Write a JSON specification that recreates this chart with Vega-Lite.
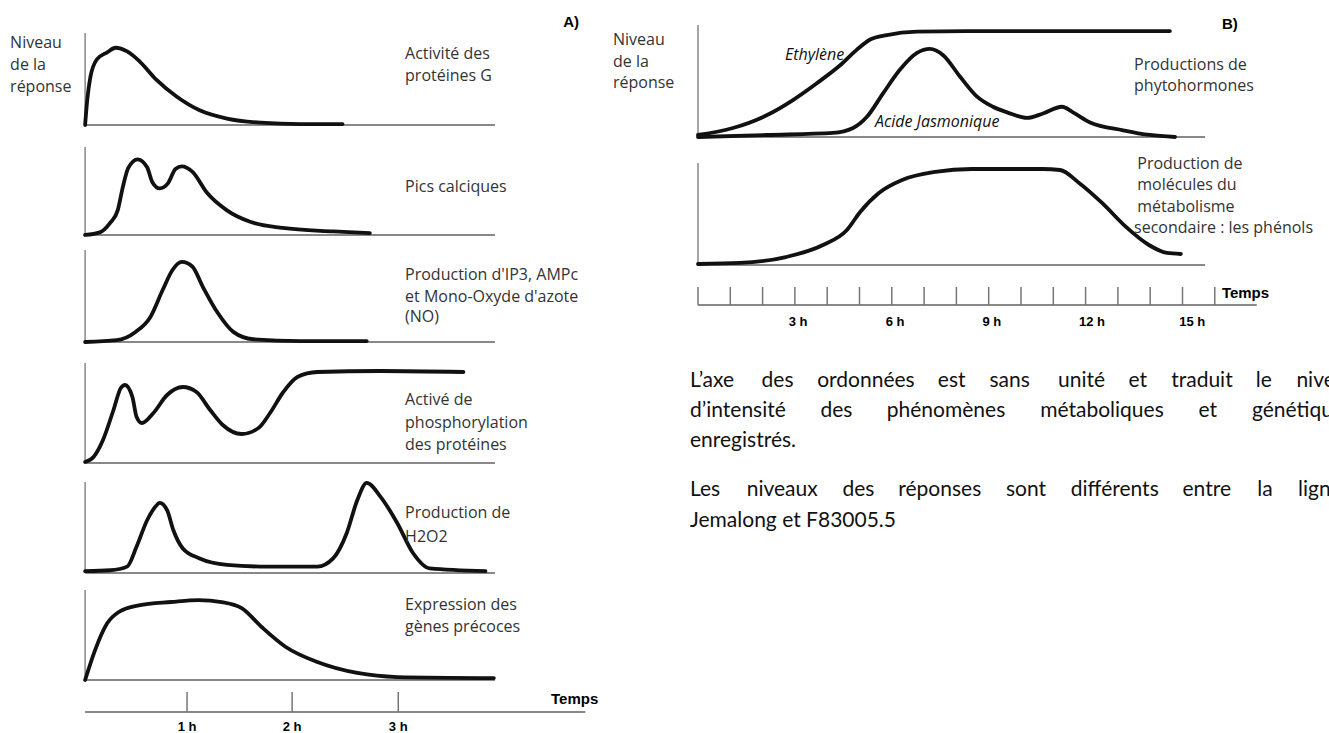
{
"$schema": "https://vega.github.io/schema/vega-lite/v6.json",
"background": "white",
"padding": 0,
"spacing": 0,
"config": {"view": {"stroke": null}},
"datasets": {
"curves": [
{"p":"A1","s":"a","t":0,"L":0},{"p":"A1","s":"a","t":0.02,"L":0.27},{"p":"A1","s":"a","t":0.05,"L":0.52},{"p":"A1","s":"a","t":0.11,"L":0.71},{"p":"A1","s":"a","t":0.21,"L":0.79},{"p":"A1","s":"a","t":0.29,"L":0.84},{"p":"A1","s":"a","t":0.4,"L":0.8},{"p":"A1","s":"a","t":0.52,"L":0.69},{"p":"A1","s":"a","t":0.68,"L":0.49},{"p":"A1","s":"a","t":0.87,"L":0.31},{"p":"A1","s":"a","t":1.09,"L":0.16},{"p":"A1","s":"a","t":1.35,"L":0.07},{"p":"A1","s":"a","t":1.67,"L":0.025},{"p":"A1","s":"a","t":2.05,"L":0.01},{"p":"A1","s":"a","t":2.45,"L":0.01},
{"p":"A2","s":"a","t":0,"L":0},{"p":"A2","s":"a","t":0.14,"L":0.03},{"p":"A2","s":"a","t":0.24,"L":0.14},{"p":"A2","s":"a","t":0.31,"L":0.28},{"p":"A2","s":"a","t":0.36,"L":0.55},{"p":"A2","s":"a","t":0.41,"L":0.76},{"p":"A2","s":"a","t":0.5,"L":0.86},{"p":"A2","s":"a","t":0.59,"L":0.77},{"p":"A2","s":"a","t":0.64,"L":0.6},{"p":"A2","s":"a","t":0.71,"L":0.53},{"p":"A2","s":"a","t":0.79,"L":0.59},{"p":"A2","s":"a","t":0.86,"L":0.75},{"p":"A2","s":"a","t":0.92,"L":0.78},{"p":"A2","s":"a","t":1.02,"L":0.72},{"p":"A2","s":"a","t":1.16,"L":0.48},{"p":"A2","s":"a","t":1.35,"L":0.28},{"p":"A2","s":"a","t":1.57,"L":0.15},{"p":"A2","s":"a","t":1.88,"L":0.08},{"p":"A2","s":"a","t":2.36,"L":0.04},{"p":"A2","s":"a","t":2.71,"L":0.02},
{"p":"A3","s":"a","t":0,"L":0},{"p":"A3","s":"a","t":0.3,"L":0.02},{"p":"A3","s":"a","t":0.48,"L":0.11},{"p":"A3","s":"a","t":0.62,"L":0.27},{"p":"A3","s":"a","t":0.74,"L":0.57},{"p":"A3","s":"a","t":0.83,"L":0.78},{"p":"A3","s":"a","t":0.92,"L":0.87},{"p":"A3","s":"a","t":1.02,"L":0.82},{"p":"A3","s":"a","t":1.12,"L":0.6},{"p":"A3","s":"a","t":1.26,"L":0.32},{"p":"A3","s":"a","t":1.41,"L":0.11},{"p":"A3","s":"a","t":1.6,"L":0.03},{"p":"A3","s":"a","t":2.05,"L":0.01},{"p":"A3","s":"a","t":2.68,"L":0.01},
{"p":"A4","s":"a","t":0,"L":0.01},{"p":"A4","s":"a","t":0.08,"L":0.06},{"p":"A4","s":"a","t":0.17,"L":0.23},{"p":"A4","s":"a","t":0.27,"L":0.53},{"p":"A4","s":"a","t":0.34,"L":0.75},{"p":"A4","s":"a","t":0.38,"L":0.78},{"p":"A4","s":"a","t":0.45,"L":0.66},{"p":"A4","s":"a","t":0.49,"L":0.46},{"p":"A4","s":"a","t":0.54,"L":0.4},{"p":"A4","s":"a","t":0.65,"L":0.5},{"p":"A4","s":"a","t":0.78,"L":0.68},{"p":"A4","s":"a","t":0.93,"L":0.76},{"p":"A4","s":"a","t":1.06,"L":0.71},{"p":"A4","s":"a","t":1.19,"L":0.53},{"p":"A4","s":"a","t":1.31,"L":0.38},{"p":"A4","s":"a","t":1.49,"L":0.29},{"p":"A4","s":"a","t":1.65,"L":0.35},{"p":"A4","s":"a","t":1.76,"L":0.5},{"p":"A4","s":"a","t":1.88,"L":0.7},{"p":"A4","s":"a","t":2.02,"L":0.86},{"p":"A4","s":"a","t":2.21,"L":0.91},{"p":"A4","s":"a","t":2.81,"L":0.92},{"p":"A4","s":"a","t":3.6,"L":0.91},
{"p":"A5","s":"a","t":0,"L":0.02},{"p":"A5","s":"a","t":0.24,"L":0.03},{"p":"A5","s":"a","t":0.4,"L":0.07},{"p":"A5","s":"a","t":0.49,"L":0.29},{"p":"A5","s":"a","t":0.59,"L":0.58},{"p":"A5","s":"a","t":0.67,"L":0.73},{"p":"A5","s":"a","t":0.71,"L":0.77},{"p":"A5","s":"a","t":0.78,"L":0.69},{"p":"A5","s":"a","t":0.84,"L":0.47},{"p":"A5","s":"a","t":0.93,"L":0.27},{"p":"A5","s":"a","t":1.09,"L":0.16},{"p":"A5","s":"a","t":1.35,"L":0.09},{"p":"A5","s":"a","t":1.73,"L":0.07},{"p":"A5","s":"a","t":2.21,"L":0.07},{"p":"A5","s":"a","t":2.36,"L":0.16},{"p":"A5","s":"a","t":2.49,"L":0.44},{"p":"A5","s":"a","t":2.59,"L":0.8},{"p":"A5","s":"a","t":2.68,"L":0.99},{"p":"A5","s":"a","t":2.81,"L":0.84},{"p":"A5","s":"a","t":2.97,"L":0.55},{"p":"A5","s":"a","t":3.12,"L":0.22},{"p":"A5","s":"a","t":3.28,"L":0.05},{"p":"A5","s":"a","t":3.81,"L":0.02},
{"p":"A6","s":"a","t":0,"L":0},{"p":"A6","s":"a","t":0.095,"L":0.333},{"p":"A6","s":"a","t":0.21,"L":0.63},{"p":"A6","s":"a","t":0.32,"L":0.756},{"p":"A6","s":"a","t":0.51,"L":0.83},{"p":"A6","s":"a","t":0.82,"L":0.867},{"p":"A6","s":"a","t":1.08,"L":0.889},{"p":"A6","s":"a","t":1.3,"L":0.867},{"p":"A6","s":"a","t":1.49,"L":0.8},{"p":"A6","s":"a","t":1.68,"L":0.589},{"p":"A6","s":"a","t":1.91,"L":0.367},{"p":"A6","s":"a","t":2.21,"L":0.2},{"p":"A6","s":"a","t":2.59,"L":0.078},{"p":"A6","s":"a","t":2.97,"L":0.033},{"p":"A6","s":"a","t":3.89,"L":0.022},
{"p":"B1","s":"eth","t":0,"L":0.018},{"p":"B1","s":"eth","t":1.08,"L":0.08},{"p":"B1","s":"eth","t":2.14,"L":0.196},{"p":"B1","s":"eth","t":2.94,"L":0.33},{"p":"B1","s":"eth","t":3.68,"L":0.48},{"p":"B1","s":"eth","t":4.4,"L":0.64},{"p":"B1","s":"eth","t":4.92,"L":0.78},{"p":"B1","s":"eth","t":5.33,"L":0.87},{"p":"B1","s":"eth","t":5.85,"L":0.91},{"p":"B1","s":"eth","t":6.78,"L":0.94},{"p":"B1","s":"eth","t":8.33,"L":0.946},{"p":"B1","s":"eth","t":14.61,"L":0.946},
{"p":"B1","s":"ja","t":0,"L":0},{"p":"B1","s":"ja","t":2.14,"L":0.018},{"p":"B1","s":"ja","t":4.18,"L":0.036},{"p":"B1","s":"ja","t":4.8,"L":0.08},{"p":"B1","s":"ja","t":5.23,"L":0.18},{"p":"B1","s":"ja","t":5.73,"L":0.39},{"p":"B1","s":"ja","t":6.25,"L":0.6},{"p":"B1","s":"ja","t":6.78,"L":0.75},{"p":"B1","s":"ja","t":7.18,"L":0.786},{"p":"B1","s":"ja","t":7.59,"L":0.73},{"p":"B1","s":"ja","t":8.11,"L":0.54},{"p":"B1","s":"ja","t":8.64,"L":0.36},{"p":"B1","s":"ja","t":9.13,"L":0.27},{"p":"B1","s":"ja","t":9.57,"L":0.22},{"p":"B1","s":"ja","t":10.19,"L":0.17},{"p":"B1","s":"ja","t":10.68,"L":0.21},{"p":"B1","s":"ja","t":11.27,"L":0.27},{"p":"B1","s":"ja","t":11.61,"L":0.22},{"p":"B1","s":"ja","t":12.14,"L":0.13},{"p":"B1","s":"ja","t":13.16,"L":0.06},{"p":"B1","s":"ja","t":13.99,"L":0.018},{"p":"B1","s":"ja","t":14.77,"L":0},
{"p":"B2","s":"phe","t":0,"L":0.01},{"p":"B2","s":"phe","t":1.3,"L":0.02},{"p":"B2","s":"phe","t":2.72,"L":0.078},{"p":"B2","s":"phe","t":3.87,"L":0.196},{"p":"B2","s":"phe","t":4.61,"L":0.343},{"p":"B2","s":"phe","t":5.02,"L":0.52},{"p":"B2","s":"phe","t":5.6,"L":0.706},{"p":"B2","s":"phe","t":6.32,"L":0.833},{"p":"B2","s":"phe","t":7.34,"L":0.912},{"p":"B2","s":"phe","t":8.48,"L":0.941},{"p":"B2","s":"phe","t":10.65,"L":0.941},{"p":"B2","s":"phe","t":11.21,"L":0.931},{"p":"B2","s":"phe","t":11.8,"L":0.804},{"p":"B2","s":"phe","t":12.51,"L":0.608},{"p":"B2","s":"phe","t":13.25,"L":0.373},{"p":"B2","s":"phe","t":13.96,"L":0.196},{"p":"B2","s":"phe","t":14.52,"L":0.118},{"p":"B2","s":"phe","t":14.95,"L":0.108}
],
"labels": [
{"p":"A1","text":"Niveau","t":-0.714,"L":0.891},{"p":"A1","text":"de la","t":-0.714,"L":0.652},{"p":"A1","text":"réponse","t":-0.714,"L":0.413},
{"p":"A1","text":"Activité des","t":3.045,"L":0.772},{"p":"A1","text":"protéines G","t":3.045,"L":0.533},
{"p":"A2","text":"Pics calciques","t":3.045,"L":0.545},
{"p":"A3","text":"Production d'IP3,  AMPc","t":3.045,"L":0.728},{"p":"A3","text":"et Mono-Oxyde d'azote","t":3.045,"L":0.489},{"p":"A3","text":"(NO)","t":3.045,"L":0.272},
{"p":"A4","text":"Activé de","t":3.045,"L":0.63},{"p":"A4","text":"phosphorylation","t":3.045,"L":0.4},{"p":"A4","text":"des protéines","t":3.045,"L":0.18},
{"p":"A5","text":"Production de","t":3.045,"L":0.659},{"p":"A5","text":"H2O2","t":3.045,"L":0.396},
{"p":"A6","text":"Expression des","t":3.045,"L":0.833},{"p":"A6","text":"gènes précoces","t":3.045,"L":0.589},
{"p":"B1","text":"Niveau","t":-2.632,"L":0.866},{"p":"B1","text":"de la","t":-2.632,"L":0.67},{"p":"B1","text":"réponse","t":-2.632,"L":0.482},
{"p":"B1","text":"Productions de","t":13.5,"L":0.643},{"p":"B1","text":"phytohormones","t":13.5,"L":0.455},
{"p":"B2","text":"Production de","t":13.6,"L":0.99},{"p":"B2","text":"molécules du","t":13.6,"L":0.784},{"p":"B2","text":"métabolisme","t":13.6,"L":0.569},{"p":"B2","text":"secondaire : les phénols","t":13.5,"L":0.363}
],
"bold": [
{"p":"A1","text":"A)","t":4.55,"L":1.12},
{"p":"A6","text":"Temps","t":4.434,"L":-0.211},
{"p":"B1","text":"B)","t":16.22,"L":1.009},
{"p":"B3","text":"Temps","t":16.22,"L":0.4}
],
"italic": [
{"p":"B1","text":"Ethylène","t":2.69,"L":0.73},
{"p":"B1","text":"Acide Jasmonique","t":5.48,"L":0.134}
],
"ticks": [
{"p":"A6","t":0.97},{"p":"A6","t":1.97},{"p":"A6","t":2.98},
{"p":"B3","t":0},{"p":"B3","t":1},{"p":"B3","t":2},{"p":"B3","t":3},{"p":"B3","t":4},{"p":"B3","t":5},{"p":"B3","t":6},{"p":"B3","t":7},{"p":"B3","t":8},{"p":"B3","t":9},{"p":"B3","t":10},{"p":"B3","t":11},{"p":"B3","t":12},{"p":"B3","t":13},{"p":"B3","t":14},{"p":"B3","t":15},{"p":"B3","t":16}
],
"tlab": [
{"p":"A6","t":0.97,"text":"1 h"},{"p":"A6","t":1.97,"text":"2 h"},{"p":"A6","t":2.98,"text":"3 h"},
{"p":"B3","t":3.1,"text":"3 h"},{"p":"B3","t":6.1,"text":"6 h"},{"p":"B3","t":9.1,"text":"9 h"},{"p":"B3","t":12.2,"text":"12 h"},{"p":"B3","t":15.3,"text":"15 h"}
],
"para": [
{"w":"L’axe","t":-0.248,"L":-2.533},{"w":"des","t":1.969,"L":-2.533},{"w":"ordonnées","t":3.69,"L":-2.533},{"w":"est","t":7.424,"L":-2.533},{"w":"sans","t":9.022,"L":-2.533},{"w":"unité","t":11.146,"L":-2.533},{"w":"et","t":13.331,"L":-2.533},{"w":"traduit","t":14.65,"L":-2.533},{"w":"le","t":17.269,"L":-2.533},{"w":"niveau","t":18.526,"L":-2.533},
{"w":"d’intensité","t":-0.248,"L":-3.533},{"w":"des","t":3.789,"L":-3.533},{"w":"phénomènes","t":5.845,"L":-3.533},{"w":"métaboliques","t":10.594,"L":-3.533},{"w":"et","t":15.498,"L":-3.533},{"w":"génétiques","t":17.152,"L":-3.533},
{"w":"enregistrés.","t":-0.248,"L":-4.533},
{"w":"Les","t":-0.248,"L":-6.167},{"w":"niveaux","t":1.509,"L":-6.167},{"w":"des","t":4.474,"L":-6.167},{"w":"réponses","t":6.2,"L":-6.167},{"w":"sont","t":9.536,"L":-6.167},{"w":"différents","t":11.54,"L":-6.167},{"w":"entre","t":15.0,"L":-6.167},{"w":"la","t":17.314,"L":-6.167},{"w":"lignée","t":18.576,"L":-6.167},
{"w":"Jemalong et F83005.5","t":-0.248,"L":-7.2}
]
},
"hconcat": [
{"spacing": 0, "bounds": "flush", "vconcat": [
{"width": 600, "height": 140, "layer": [
{"data":{"values":[{}]},"mark":{"type":"rule","color":"#888","strokeWidth":1.5},"encoding":{"x":{"datum":0,"type":"quantitative","scale":{"domain":[-0.81,4.9],"nice":false,"zero":false},"axis":null},"y":{"datum":0,"type":"quantitative","scale":{"domain":[-0.163,1.359],"nice":false,"zero":false},"axis":null},"y2":{"datum":1}}},
{"data":{"values":[{}]},"mark":{"type":"rule","color":"#888","strokeWidth":2},"encoding":{"x":{"datum":0,"type":"quantitative","axis":null},"x2":{"datum":3.9},"y":{"datum":0,"type":"quantitative","axis":null}}},
{"data":{"name":"curves"},"transform":[{"filter":"datum.p=='A1'"}],"mark":{"type":"line","interpolate":"monotone","color":"#111","strokeWidth":3.8,"strokeCap":"round"},"encoding":{"x":{"field":"t","type":"quantitative","axis":null},"y":{"field":"L","type":"quantitative","axis":null},"detail":{"field":"s"}}},
{"data":{"name":"labels"},"transform":[{"filter":"datum.p=='A1'"}],"mark":{"type":"text","align":"left","baseline":"middle","font":"Open Sans","fontSize":16,"color":"#333"},"encoding":{"x":{"field":"t","type":"quantitative","axis":null},"y":{"field":"L","type":"quantitative","axis":null},"text":{"field":"text"}}},
{"data":{"name":"bold"},"transform":[{"filter":"datum.p=='A1'"}],"mark":{"type":"text","align":"left","baseline":"middle","font":"Liberation Sans","fontWeight":"bold","fontSize":15,"color":"#000"},"encoding":{"x":{"field":"t","type":"quantitative","axis":null},"y":{"field":"L","type":"quantitative","axis":null},"text":{"field":"text"}}}
]},
{"width": 600, "height": 105, "layer": [
{"data":{"values":[{}]},"mark":{"type":"rule","color":"#888","strokeWidth":1.5},"encoding":{"x":{"datum":0,"type":"quantitative","scale":{"domain":[-0.81,4.9],"nice":false,"zero":false},"axis":null},"y":{"datum":0,"type":"quantitative","scale":{"domain":[-0.114,1.08],"nice":false,"zero":false},"axis":null},"y2":{"datum":1}}},
{"data":{"values":[{}]},"mark":{"type":"rule","color":"#888","strokeWidth":2},"encoding":{"x":{"datum":0,"type":"quantitative","axis":null},"x2":{"datum":3.9},"y":{"datum":0,"type":"quantitative","axis":null}}},
{"data":{"name":"curves"},"transform":[{"filter":"datum.p=='A2'"}],"mark":{"type":"line","interpolate":"monotone","color":"#111","strokeWidth":3.8,"strokeCap":"round"},"encoding":{"x":{"field":"t","type":"quantitative","axis":null},"y":{"field":"L","type":"quantitative","axis":null},"detail":{"field":"s"}}},
{"data":{"name":"labels"},"transform":[{"filter":"datum.p=='A2'"}],"mark":{"type":"text","align":"left","baseline":"middle","font":"Open Sans","fontSize":16,"color":"#333"},"encoding":{"x":{"field":"t","type":"quantitative","axis":null},"y":{"field":"L","type":"quantitative","axis":null},"text":{"field":"text"}}}
]},
{"width": 600, "height": 110, "layer": [
{"data":{"values":[{}]},"mark":{"type":"rule","color":"#888","strokeWidth":1.5},"encoding":{"x":{"datum":0,"type":"quantitative","scale":{"domain":[-0.81,4.9],"nice":false,"zero":false},"axis":null},"y":{"datum":0,"type":"quantitative","scale":{"domain":[-0.141,1.054],"nice":false,"zero":false},"axis":null},"y2":{"datum":1}}},
{"data":{"values":[{}]},"mark":{"type":"rule","color":"#888","strokeWidth":2},"encoding":{"x":{"datum":0,"type":"quantitative","axis":null},"x2":{"datum":3.9},"y":{"datum":0,"type":"quantitative","axis":null}}},
{"data":{"name":"curves"},"transform":[{"filter":"datum.p=='A3'"}],"mark":{"type":"line","interpolate":"monotone","color":"#111","strokeWidth":3.8,"strokeCap":"round"},"encoding":{"x":{"field":"t","type":"quantitative","axis":null},"y":{"field":"L","type":"quantitative","axis":null},"detail":{"field":"s"}}},
{"data":{"name":"labels"},"transform":[{"filter":"datum.p=='A3'"}],"mark":{"type":"text","align":"left","baseline":"middle","font":"Open Sans","fontSize":16,"color":"#333"},"encoding":{"x":{"field":"t","type":"quantitative","axis":null},"y":{"field":"L","type":"quantitative","axis":null},"text":{"field":"text"}}}
]},
{"width": 600, "height": 120, "layer": [
{"data":{"values":[{}]},"mark":{"type":"rule","color":"#888","strokeWidth":1.5},"encoding":{"x":{"datum":0,"type":"quantitative","scale":{"domain":[-0.81,4.9],"nice":false,"zero":false},"axis":null},"y":{"datum":0,"type":"quantitative","scale":{"domain":[-0.12,1.08],"nice":false,"zero":false},"axis":null},"y2":{"datum":1}}},
{"data":{"values":[{}]},"mark":{"type":"rule","color":"#888","strokeWidth":2},"encoding":{"x":{"datum":0,"type":"quantitative","axis":null},"x2":{"datum":3.9},"y":{"datum":0,"type":"quantitative","axis":null}}},
{"data":{"name":"curves"},"transform":[{"filter":"datum.p=='A4'"}],"mark":{"type":"line","interpolate":"monotone","color":"#111","strokeWidth":3.8,"strokeCap":"round"},"encoding":{"x":{"field":"t","type":"quantitative","axis":null},"y":{"field":"L","type":"quantitative","axis":null},"detail":{"field":"s"}}},
{"data":{"name":"labels"},"transform":[{"filter":"datum.p=='A4'"}],"mark":{"type":"text","align":"left","baseline":"middle","font":"Open Sans","fontSize":16,"color":"#333"},"encoding":{"x":{"field":"t","type":"quantitative","axis":null},"y":{"field":"L","type":"quantitative","axis":null},"text":{"field":"text"}}}
]},
{"width": 600, "height": 110, "layer": [
{"data":{"values":[{}]},"mark":{"type":"rule","color":"#888","strokeWidth":1.5},"encoding":{"x":{"datum":0,"type":"quantitative","scale":{"domain":[-0.81,4.9],"nice":false,"zero":false},"axis":null},"y":{"datum":0,"type":"quantitative","scale":{"domain":[-0.132,1.077],"nice":false,"zero":false},"axis":null},"y2":{"datum":1}}},
{"data":{"values":[{}]},"mark":{"type":"rule","color":"#888","strokeWidth":2},"encoding":{"x":{"datum":0,"type":"quantitative","axis":null},"x2":{"datum":3.9},"y":{"datum":0,"type":"quantitative","axis":null}}},
{"data":{"name":"curves"},"transform":[{"filter":"datum.p=='A5'"}],"mark":{"type":"line","interpolate":"monotone","color":"#111","strokeWidth":3.8,"strokeCap":"round"},"encoding":{"x":{"field":"t","type":"quantitative","axis":null},"y":{"field":"L","type":"quantitative","axis":null},"detail":{"field":"s"}}},
{"data":{"name":"labels"},"transform":[{"filter":"datum.p=='A5'"}],"mark":{"type":"text","align":"left","baseline":"middle","font":"Open Sans","fontSize":16,"color":"#333"},"encoding":{"x":{"field":"t","type":"quantitative","axis":null},"y":{"field":"L","type":"quantitative","axis":null},"text":{"field":"text"}}}
]},
{"width": 600, "height": 148, "layer": [
{"data":{"values":[{}]},"mark":{"type":"rule","color":"#888","strokeWidth":1.5},"encoding":{"x":{"datum":0,"type":"quantitative","scale":{"domain":[-0.81,4.9],"nice":false,"zero":false},"axis":null},"y":{"datum":0,"type":"quantitative","scale":{"domain":[-0.589,1.056],"nice":false,"zero":false},"axis":null},"y2":{"datum":1}}},
{"data":{"values":[{}]},"mark":{"type":"rule","color":"#888","strokeWidth":2},"encoding":{"x":{"datum":0,"type":"quantitative","axis":null},"x2":{"datum":3.9},"y":{"datum":0,"type":"quantitative","axis":null}}},
{"data":{"values":[{}]},"mark":{"type":"rule","color":"#888","strokeWidth":2},"encoding":{"x":{"datum":0,"type":"quantitative","axis":null},"x2":{"datum":4.76},"y":{"datum":-0.356,"type":"quantitative","axis":null}}},
{"data":{"name":"ticks"},"transform":[{"filter":"datum.p=='A6'"}],"mark":{"type":"rule","color":"#777","strokeWidth":1.5},"encoding":{"x":{"field":"t","type":"quantitative","axis":null},"y":{"datum":-0.356,"type":"quantitative","axis":null},"y2":{"datum":-0.133}}},
{"data":{"name":"tlab"},"transform":[{"filter":"datum.p=='A6'"}],"mark":{"type":"text","align":"center","baseline":"middle","font":"Liberation Sans","fontWeight":"bold","fontSize":13,"color":"#000"},"encoding":{"x":{"field":"t","type":"quantitative","axis":null},"y":{"datum":-0.522,"type":"quantitative","axis":null},"text":{"field":"text"}}},
{"data":{"name":"curves"},"transform":[{"filter":"datum.p=='A6'"}],"mark":{"type":"line","interpolate":"monotone","color":"#111","strokeWidth":3.8,"strokeCap":"round"},"encoding":{"x":{"field":"t","type":"quantitative","axis":null},"y":{"field":"L","type":"quantitative","axis":null},"detail":{"field":"s"}}},
{"data":{"name":"labels"},"transform":[{"filter":"datum.p=='A6'"}],"mark":{"type":"text","align":"left","baseline":"middle","font":"Open Sans","fontSize":16,"color":"#333"},"encoding":{"x":{"field":"t","type":"quantitative","axis":null},"y":{"field":"L","type":"quantitative","axis":null},"text":{"field":"text"}}},
{"data":{"name":"bold"},"transform":[{"filter":"datum.p=='A6'"}],"mark":{"type":"text","align":"left","baseline":"middle","font":"Liberation Sans","fontWeight":"bold","fontSize":15,"color":"#000"},"encoding":{"x":{"field":"t","type":"quantitative","axis":null},"y":{"field":"L","type":"quantitative","axis":null},"text":{"field":"text"}}}
]}
]},
{"spacing": 0, "bounds": "flush", "vconcat": [
{"width": 729, "height": 150, "layer": [
{"data":{"values":[{}]},"mark":{"type":"rule","color":"#888","strokeWidth":1.5},"encoding":{"x":{"datum":0,"type":"quantitative","scale":{"domain":[-3.034,19.536],"nice":false,"zero":false},"axis":null},"y":{"datum":0,"type":"quantitative","scale":{"domain":[-0.116,1.223],"nice":false,"zero":false},"axis":null},"y2":{"datum":1}}},
{"data":{"values":[{}]},"mark":{"type":"rule","color":"#888","strokeWidth":2},"encoding":{"x":{"datum":0,"type":"quantitative","axis":null},"x2":{"datum":15.7},"y":{"datum":0,"type":"quantitative","axis":null}}},
{"data":{"name":"curves"},"transform":[{"filter":"datum.p=='B1'"}],"mark":{"type":"line","interpolate":"monotone","color":"#111","strokeWidth":3.8,"strokeCap":"round"},"encoding":{"x":{"field":"t","type":"quantitative","axis":null},"y":{"field":"L","type":"quantitative","axis":null},"detail":{"field":"s"}}},
{"data":{"name":"labels"},"transform":[{"filter":"datum.p=='B1'"}],"mark":{"type":"text","align":"left","baseline":"middle","font":"Open Sans","fontSize":16,"color":"#333"},"encoding":{"x":{"field":"t","type":"quantitative","axis":null},"y":{"field":"L","type":"quantitative","axis":null},"text":{"field":"text"}}},
{"data":{"name":"italic"},"transform":[{"filter":"datum.p=='B1'"}],"mark":{"type":"text","align":"left","baseline":"middle","font":"Open Sans","fontStyle":"italic","fontSize":16,"color":"#111"},"encoding":{"x":{"field":"t","type":"quantitative","axis":null},"y":{"field":"L","type":"quantitative","axis":null},"text":{"field":"text"}}},
{"data":{"name":"bold"},"transform":[{"filter":"datum.p=='B1'"}],"mark":{"type":"text","align":"left","baseline":"middle","font":"Liberation Sans","fontWeight":"bold","fontSize":15,"color":"#000"},"encoding":{"x":{"field":"t","type":"quantitative","axis":null},"y":{"field":"L","type":"quantitative","axis":null},"text":{"field":"text"}}}
]},
{"width": 729, "height": 125, "layer": [
{"data":{"values":[{}]},"mark":{"type":"rule","color":"#888","strokeWidth":1.5},"encoding":{"x":{"datum":0,"type":"quantitative","scale":{"domain":[-3.034,19.536],"nice":false,"zero":false},"axis":null},"y":{"datum":0,"type":"quantitative","scale":{"domain":[-0.098,1.127],"nice":false,"zero":false},"axis":null},"y2":{"datum":1}}},
{"data":{"values":[{}]},"mark":{"type":"rule","color":"#888","strokeWidth":2},"encoding":{"x":{"datum":0,"type":"quantitative","axis":null},"x2":{"datum":15.7},"y":{"datum":0,"type":"quantitative","axis":null}}},
{"data":{"name":"curves"},"transform":[{"filter":"datum.p=='B2'"}],"mark":{"type":"line","interpolate":"monotone","color":"#111","strokeWidth":3.8,"strokeCap":"round"},"encoding":{"x":{"field":"t","type":"quantitative","axis":null},"y":{"field":"L","type":"quantitative","axis":null},"detail":{"field":"s"}}},
{"data":{"name":"labels"},"transform":[{"filter":"datum.p=='B2'"}],"mark":{"type":"text","align":"left","baseline":"middle","font":"Open Sans","fontSize":16,"color":"#333"},"encoding":{"x":{"field":"t","type":"quantitative","axis":null},"y":{"field":"L","type":"quantitative","axis":null},"text":{"field":"text"}}}
]},
{"width": 729, "height": 458, "layer": [
{"data":{"values":[{}]},"mark":{"type":"rule","color":"#888","strokeWidth":2},"encoding":{"x":{"datum":0,"type":"quantitative","scale":{"domain":[-3.034,19.536],"nice":false,"zero":false},"axis":null},"x2":{"datum":17.3},"y":{"datum":0,"type":"quantitative","scale":{"domain":[-14.267,1.0],"nice":false,"zero":false},"axis":null}}},
{"data":{"name":"ticks"},"transform":[{"filter":"datum.p=='B3'"}],"mark":{"type":"rule","color":"#777","strokeWidth":1.5},"encoding":{"x":{"field":"t","type":"quantitative","axis":null},"y":{"datum":0,"type":"quantitative","axis":null},"y2":{"datum":0.6}}},
{"data":{"name":"tlab"},"transform":[{"filter":"datum.p=='B3'"}],"mark":{"type":"text","align":"center","baseline":"middle","font":"Liberation Sans","fontWeight":"bold","fontSize":13,"color":"#000"},"encoding":{"x":{"field":"t","type":"quantitative","axis":null},"y":{"datum":-0.567,"type":"quantitative","axis":null},"text":{"field":"text"}}},
{"data":{"name":"bold"},"transform":[{"filter":"datum.p=='B3'"}],"mark":{"type":"text","align":"left","baseline":"middle","font":"Liberation Sans","fontWeight":"bold","fontSize":15,"color":"#000"},"encoding":{"x":{"field":"t","type":"quantitative","axis":null},"y":{"field":"L","type":"quantitative","axis":null},"text":{"field":"text"}}},
{"data":{"name":"para"},"mark":{"type":"text","align":"left","baseline":"middle","font":"Lato","fontSize":21,"color":"#111","clip":true},"encoding":{"x":{"field":"t","type":"quantitative","axis":null},"y":{"field":"L","type":"quantitative","axis":null},"text":{"field":"w"}}}
]}
]}
]
}
